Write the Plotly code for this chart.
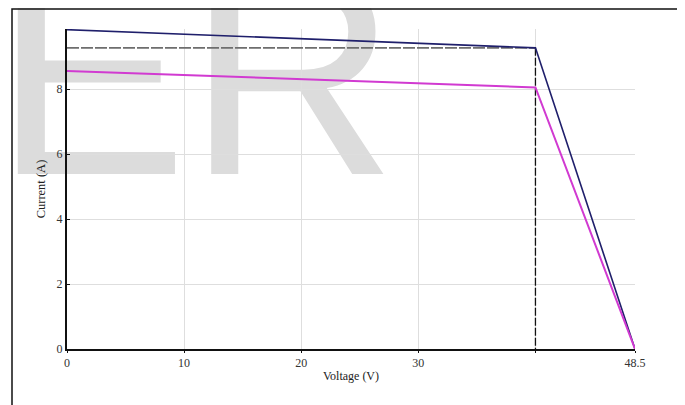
import plotly.graph_objects as go

# Data
voltage_a = [0, 40, 48.5]
current_a = [9.83, 9.27, 0]          # navy curve
voltage_b = [0, 40, 48.5]
current_b = [8.56, 8.05, 0]          # magenta curve
vmp = 40
imp = 9.27

x_ticks = [0, 10, 20, 30, 40, 48.5]
x_tick_text = ["0", "10", "20", "30", "", "48.5"]
x_grid = [10, 20, 30, 40]
y_ticks = [0, 2, 4, 6, 8]

serif = "Liberation Serif"

fig = go.Figure()

fig.add_trace(go.Scatter(x=[0, vmp], y=[imp, imp], mode="lines",
                         line=dict(color="#6e6e6e", width=1.6, dash="12px,2px"),
                         hoverinfo="skip", showlegend=False))
fig.add_trace(go.Scatter(x=[vmp, vmp], y=[imp, 0], mode="lines",
                         line=dict(color="#111111", width=1.3, dash="8px,2px"),
                         hoverinfo="skip", showlegend=False))
fig.add_trace(go.Scatter(x=voltage_a, y=current_a, mode="lines",
                         line=dict(color="#1f1f6b", width=1.6),
                         showlegend=False))
fig.add_trace(go.Scatter(x=voltage_b, y=current_b, mode="lines",
                         line=dict(color="#d13ad1", width=2),
                         showlegend=False))

# page-pixel -> paper helpers (plot area spans page x 67..635, y 29..349)
def px2x(px):
    return (px - 67) / 568.0

def py2y(py):
    return (349 - py) / 320.0

shapes = [
    # watermark
    dict(type="rect", xref="paper", yref="paper", layer="below",
         x0=px2x(-9), x1=px2x(420), y0=py2y(208), y1=py2y(-60),
         line=dict(width=0), fillcolor="rgba(0,0,0,0)",
         label=dict(text="ER", textposition="bottom left", padding=0,
                    font=dict(size=290, color="#dcdcdc", family="Liberation Sans"))),
    # outer frame
    dict(type="rect", xref="paper", yref="paper", layer="above",
         x0=px2x(12), x1=px2x(681), y0=py2y(440), y1=py2y(9),
         line=dict(color="#111111", width=1.5), fillcolor="rgba(0,0,0,0)"),
]

# the page body has an 8px margin, so the figure is drawn 8px in from the corner
fig.update_layout(
    width=677, height=397,
    margin=dict(l=59, r=50, t=21, b=56),
    paper_bgcolor="white", plot_bgcolor="white",
    shapes=shapes,
    xaxis=dict(range=[0, 48.5], tickvals=x_ticks, ticktext=x_tick_text,
               showgrid=False, zeroline=False,
               showline=True, linecolor="#111111", linewidth=2,
               ticks="outside", ticklen=2, tickcolor="#111111", tickwidth=1,
               tickfont=dict(family=serif, size=12, color="#333333"),
               minor=dict(tickvals=x_grid, showgrid=True, gridcolor="#dedede",
                          gridwidth=1, ticks=""),
               title=dict(text="Voltage (V)", standoff=2,
                          font=dict(family=serif, size=12, color="#222222"))),
    yaxis=dict(range=[0, 9.85], tickvals=y_ticks,
               showgrid=True, gridcolor="#dedede", gridwidth=1, zeroline=False,
               showline=True, linecolor="#111111", linewidth=2,
               ticks="inside", ticklen=3, tickcolor="#111111", tickwidth=1,
               tickfont=dict(family=serif, size=12, color="#333333"),
               title=dict(text="Current (A)", standoff=8,
                          font=dict(family=serif, size=12.5, color="#222222"))),
)

fig.write_html("out.html")
